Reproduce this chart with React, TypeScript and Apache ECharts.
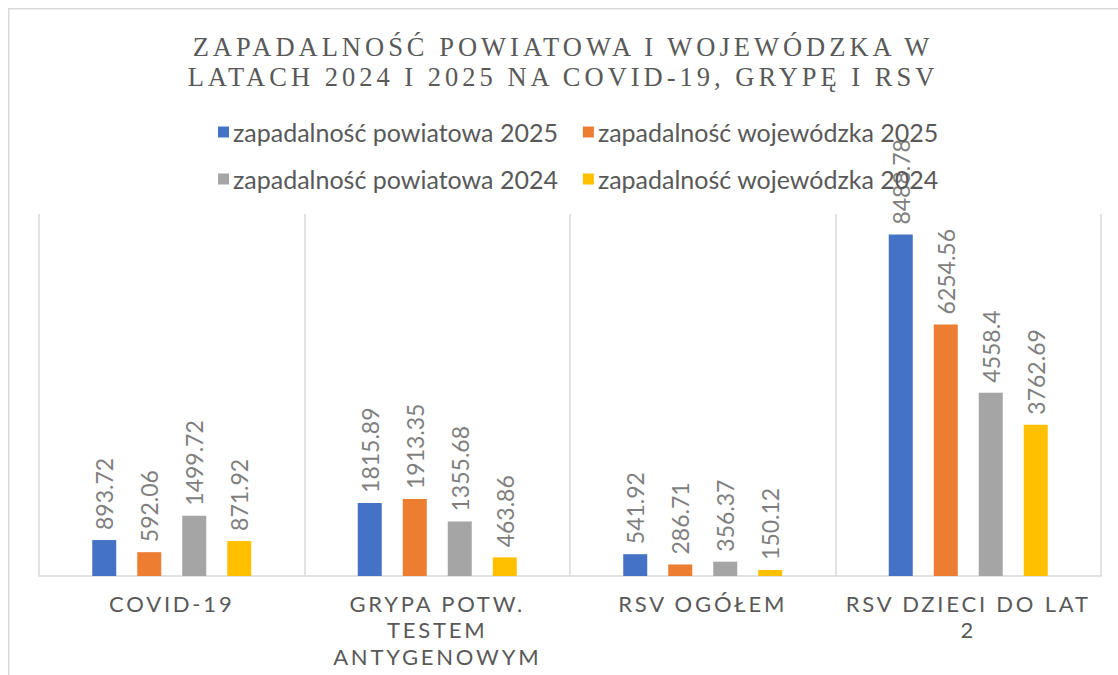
import React, { useEffect, useRef } from "react";
import * as echarts from "echarts";

const titleText = "ZAPADALNOŚĆ POWIATOWA I WOJEWÓDZKA W\nLATACH 2024 I 2025 NA COVID-19, GRYPĘ I RSV";
const categories = ["COVID-19", "GRYPA POTW.\nTESTEM\nANTYGENOWYM", "RSV OGÓŁEM", "RSV DZIECI DO LAT\n2"];
const seriesNames = [
  "zapadalność powiatowa 2025",
  "zapadalność wojewódzka 2025",
  "zapadalność powiatowa 2024",
  "zapadalność wojewódzka 2024",
];
const pow2025 = [893.72, 1815.89, 541.92, 8488.78];
const woj2025 = [592.06, 1913.35, 286.71, 6254.56];
const pow2024 = [1499.72, 1355.68, 356.37, 4558.4];
const woj2024 = [871.92, 463.86, 150.12, 3762.69];
const colors = ["#4472C4", "#ED7D31", "#A5A5A5", "#FFC000"];
const valueMin = 0;
const valueMax = 9000;

export default function App() {
  const ref = useRef<HTMLDivElement>(null);
  useEffect(() => {
    if (!ref.current) return;
    const chart = echarts.init(ref.current, undefined, { renderer: "svg" });
    const values = [pow2025, woj2025, pow2024, woj2024];
    const legendCommon = {
      orient: "horizontal",
      left: 210,
      padding: 0,
      itemGap: 25,
      itemWidth: 11,
      itemHeight: 11,
      icon: "rect",
      textStyle: { color: "#595959", fontSize: 25, fontFamily: "Lato", lineHeight: 26, padding: [0, 0, 0, -1] },
    };
    chart.setOption({
      animation: false,
      backgroundColor: "#ffffff",
      color: colors,
      title: {
        text: titleText,
        left: "center",
        top: 24,
        padding: 0,
        textStyle: {
          fontFamily: "Liberation Serif",
          fontSize: 26.5,
          fontWeight: "normal",
          color: "#595959",
          lineHeight: 30,
        },
      },
      legend: [
        { ...legendCommon, top: 111, data: [seriesNames[0], seriesNames[1]] },
        { ...legendCommon, top: 158, data: [seriesNames[2], seriesNames[3]] },
      ],
      grid: { left: 31, right: 17, top: 206, height: 362, containLabel: false },
      xAxis: {
        type: "category",
        data: categories,
        axisLine: { show: true, lineStyle: { color: "#d9d9d9", width: 1.5 } },
        axisTick: { show: false },
        splitLine: { show: true, lineStyle: { color: "#d9d9d9", width: 1.5 } },
        axisLabel: {
          interval: 0,
          margin: 14,
          color: "#595959",
          fontFamily: "Lato, Arial",
          fontSize: 22,
          lineHeight: 26.5,
          verticalAlign: "top",
        },
      },
      yAxis: {
        type: "value",
        min: valueMin,
        max: valueMax,
        show: false,
        splitLine: { show: false },
      },
      graphic: [
        {
          type: "rect",
          shape: { x: 0.75, y: 0.75, width: 1300, height: 1000 },
          style: { fill: "none", stroke: "#d9d9d9", lineWidth: 1.5 },
          silent: true,
          z: -1,
        },
      ],
      series: seriesNames.map((name, i) => ({
        name,
        type: "bar",
        data: values[i],
        barWidth: 24,
        barGap: "87.5%",
        itemStyle: { color: colors[i] },
        label: {
          show: true,
          position: "top",
          distance: 10,
          rotate: 90,
          align: "left",
          verticalAlign: "middle",
          color: "#7f7f7f",
          fontFamily: "Lato",
          fontSize: 23,
        },
      })),
    });
    return () => chart.dispose();
  }, []);
  return (
    <>
      <style>{`text[style*="Liberation Serif"]{letter-spacing:4px}text[style*="Arial"]{letter-spacing:2.8px}`}</style>
      <div ref={ref} style={{ position: "fixed", left: 8, top: 8, width: 1110, height: 667 }} />
    </>
  );
}
